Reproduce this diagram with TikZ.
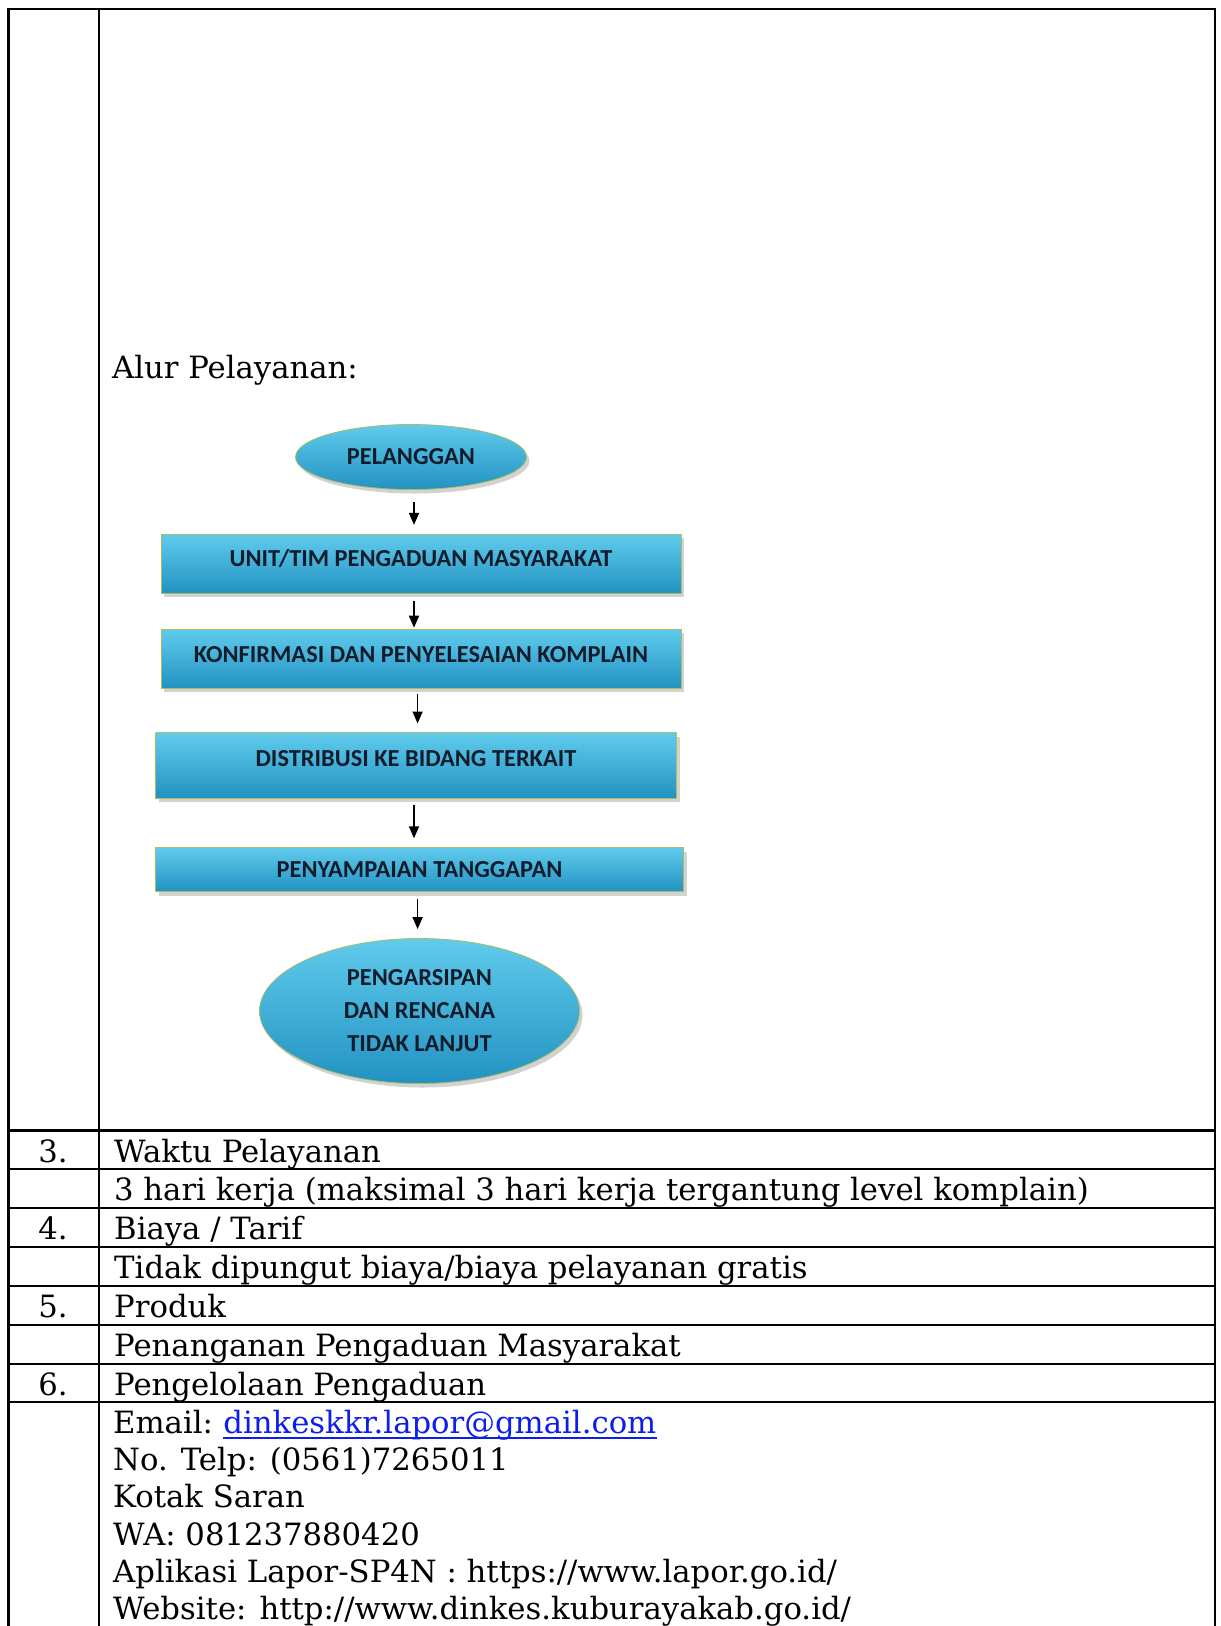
\documentclass[tikz,border=0pt]{standalone}
\usepackage{fontspec}
\setmainfont{DejaVu Serif}
\newfontfamily\flowfont{Carlito}
\usetikzlibrary{positioning, shapes.geometric, shadows, arrows.meta}

\definecolor{flowtop}{RGB}{96,203,236}
\definecolor{flowmid}{RGB}{52,178,219}
\definecolor{flowbot}{RGB}{34,146,194}
\definecolor{flowedge}{RGB}{168,190,96}
\definecolor{flowtext}{RGB}{18,28,44}
\definecolor{linkblue}{RGB}{12,30,238}

\tikzset{
	flowbox/.style={rectangle, draw=flowedge, line width=0.8pt, top color=flowtop, middle color=flowmid, bottom color=flowbot, drop shadow={shadow xshift=3pt, shadow yshift=-4pt, opacity=0.35}, inner sep=0pt, font=\flowfont\bfseries\fontsize{24.4}{33}\selectfont, text=flowtext, align=center},
	flowoval/.style={flowbox, ellipse},
	flowarrow/.style={-{Triangle[length=12pt, width=10pt]}, line width=1.6pt, shorten <=7pt, shorten >=9pt},
	celltext/.style={anchor=base west, inner sep=0pt, font=\fontsize{30.7}{37}\selectfont},
	rownum/.style={anchor=base, inner sep=0pt, font=\fontsize{30.7}{37}\selectfont},
	grid/.style={line width=2.8pt}
}

\begin{document}
\begin{tikzpicture}[x=1pt, y=-1pt]

		\useasboundingbox (0,0) rectangle (1221,1626);
		\fill[white] (0,0) rectangle (1221,1626);

		% table lines
		\draw[grid] (8.5,1626) -- (8.5,9) -- (1215,9) -- (1215,1626);
		\draw[grid] (99,9) -- (99,1626);
		\foreach \y in {1130.7, 1169, 1208, 1247, 1286, 1325, 1364, 1402}
			\draw[grid] (8.5,\y) -- (1215,\y);

		\node[celltext] (alur) at (112,378) {Alur Pelayanan:};

		% flowchart
		\node[flowoval, minimum width=231pt, minimum height=65pt] (pel) at (411,457) {PELANGGAN};
		\node[flowbox, minimum width=520pt, minimum height=59pt, text depth=12pt] (unit) [below=44pt of pel, xshift=10pt] {UNIT/TIM PENGADUAN MASYARAKAT};
		\node[flowbox, minimum width=520pt, minimum height=59pt, text depth=8pt] (konf) [below=35pt of unit] {KONFIRMASI DAN PENYELESAIAN KOMPLAIN};
		\node[flowbox, minimum width=521pt, minimum height=65pt, text depth=14pt] (dist) [below=44pt of konf, xshift=-5pt] {DISTRIBUSI KE BIDANG TERKAIT};
		\node[flowbox, minimum width=528pt, minimum height=44pt] (tang) [below=49pt of dist, xshift=3.5pt] {PENYAMPAIAN TANGGAPAN};
		\node[flowoval, minimum width=320pt, minimum height=145pt] (arsip) [below=46pt of tang] {PENGARSIPAN\\DAN RENCANA\\TIDAK LANJUT};

		\coordinate (axis) at (414,0);
		\coordinate (axisb) at (417.6,0);
		\draw[flowarrow, shorten <=12pt] (pel.south -| axis) -- (unit.north -| axis);
		\draw[flowarrow, shorten >=1pt] (unit.south -| axis) -- (konf.north -| axis);
		\draw[flowarrow, shorten <=5pt] (konf.south -| axisb) -- (dist.north -| axisb);
		\draw[flowarrow] (dist.south -| axis) -- (tang.north -| axis);
		\draw[flowarrow] (tang.south -| axisb) -- (arsip.north -| axisb);

		% rows below
		\node[rownum] (n3) at (53,1162) {3.};
		\node[celltext] (waktu) at (114,1162) {Waktu Pelayanan};
		\node[celltext] (hari) at (114,1200) {3 hari kerja (maksimal 3 hari kerja tergantung level komplain)};
		\node[rownum] (n4) at (53,1239) {4.};
		\node[celltext] (biaya) at (114,1239) {Biaya / Tarif};
		\node[celltext] (gratis) at (114,1278) {Tidak dipungut biaya/biaya pelayanan gratis};
		\node[rownum] (n5) at (53,1317) {5.};
		\node[celltext] (produk) at (114,1317) {Produk};
		\node[celltext] (penanganan) at (114,1356) {Penanganan Pengaduan Masyarakat};
		\node[rownum] (n6) at (53,1395) {6.};
		\node[celltext] (kelola) at (114,1395) {Pengelolaan Pengaduan};

		\node[celltext] (email) at (113,1433) {Email:};
		\node[celltext, text=linkblue] (mail) at ([xshift=10pt]email.base east) {dinkeskkr.lapor@gmail.com};
		\draw[linkblue, line width=2.2pt] ([yshift=-5pt]mail.base west) -- ([yshift=-5pt]mail.base east);
		\node[celltext] (telp) at (113,1470) {No. Telp: (0561)7265011};
		\node[celltext] (kotak) at (113,1507) {Kotak Saran};
		\node[celltext] (wa) at (113,1545) {WA: 081237880420};
		\node[celltext] (lapor) at (113,1582) {Aplikasi Lapor-SP4N : https://www.lapor.go.id/};
		\node[celltext] (web) at (113,1619) {Website: http://www.dinkes.kuburayakab.go.id/};

\end{tikzpicture}
\end{document}
